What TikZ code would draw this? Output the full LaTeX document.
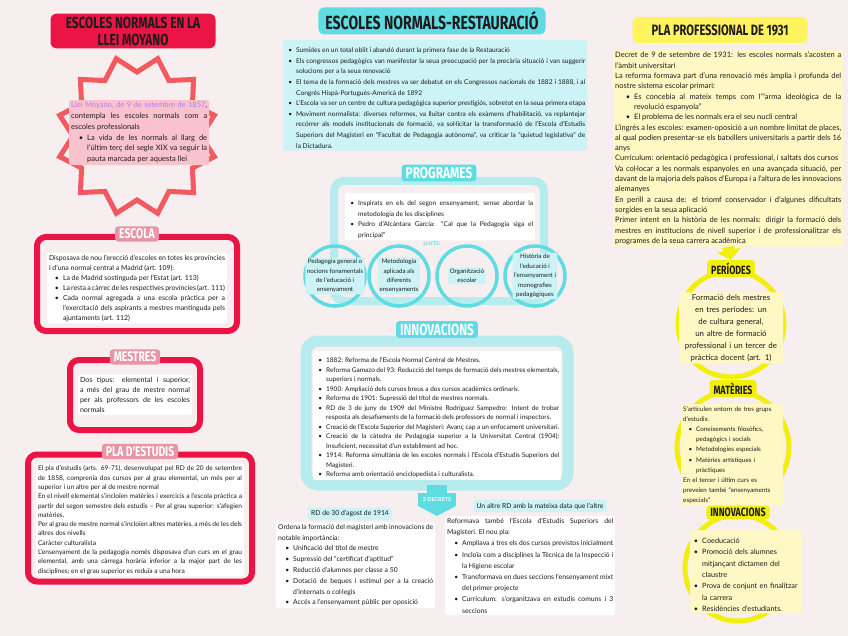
\documentclass[tikz,border=0pt]{standalone}
\usepackage{fontspec}
\setmainfont{Lato}
\newfontfamily\headfont{Fira Sans}[FakeStretch=0.74]
\usepackage{enumitem}
\setlist[itemize]{nosep,leftmargin=11pt,labelsep=4pt,label=\textbullet}
\usetikzlibrary{arrows.meta,positioning,calc,shapes.geometric}
\definecolor{paper}{HTML}{F6EEEF}
\definecolor{ink}{HTML}{1F1A1C}
\definecolor{crimson}{HTML}{EC1444}
\definecolor{coral}{HTML}{F25A60}
\definecolor{rosetag}{HTML}{E895A4}
\definecolor{rosehl}{HTML}{F9C3CE}
\definecolor{lilac}{HTML}{B47DE6}
\definecolor{aqua}{HTML}{5EDCE2}
\definecolor{aqualt}{HTML}{B6ECEE}
\definecolor{aquahl}{HTML}{CCF4F6}
\definecolor{lemon}{HTML}{FFF35E}
\definecolor{lemonb}{HTML}{F2EF0C}
\definecolor{lemonhl}{HTML}{FFF8C4}
\newcommand{\setfs}[2]{\fontsize{#1}{#2}\selectfont}
\hyphenpenalty=10000
\exhyphenpenalty=10000
\tolerance=9999
\emergencystretch=2em

\begin{document}
\begin{tikzpicture}[x=1pt,y=-1pt,
  title/.style={text=ink,rounded corners=6pt,align=center,inner xsep=7pt,inner ysep=3pt},
  tag/.style={font=\headfont\bfseries\setfs{14}{14},text=white,fill=rosetag,
              rounded corners=3pt,inner xsep=4pt,inner ysep=2.5pt},
  frame/.style={draw=crimson,line width=6pt,rounded corners=9pt},
  txt/.style={font=\setfs{6.4}{10},text=ink,fill=white,align=justify,
              rounded corners=2pt,inner sep=2pt,anchor=north west},
  ring/.style={circle,draw=lemonb,line width=5pt},
  bubble/.style={circle,draw=aqua,line width=3.5pt,minimum size=60pt},
  parttxt/.style={fill=aquahl,text=ink,align=center,font=\setfs{6.2}{9.4},
                  inner sep=1.5pt,rounded corners=2pt},
  rdtag/.style={fill=aquahl,text=ink,font=\setfs{6.8}{8},rounded corners=2pt,inner sep=3pt},
  ar/.style={-{Triangle[width=24pt,length=10pt]},line width=12pt,lemonb}]
\useasboundingbox (0,0) rectangle (848,636);
\fill[paper] (0,0) rectangle (848,636);

% left column
\node[title,fill=crimson,font=\headfont\bfseries\setfs{16}{17},minimum width=165pt]
  (moyano) at (133,31) {ESCOLES NORMALS EN LA\\LLEI MOYANO};
\node[star,star points=12,star point ratio=1.25,draw=coral,line width=5pt,
      minimum size=160pt,shape border rotate=15] (burst) at (137,136) {};
\node[txt,fill=rosehl,text width=136pt,font=\setfs{7.5}{10.8}] (moyanotxt) at (69,100)
  {{\color{lilac}Llei Moyano, de 9 de setembre de 1857}, contempla les escoles normals
   com a escoles professionals
   \begin{itemize}[leftmargin=16pt]
   \item La vida de les normals al llarg de l'últim terç del segle XIX va seguir la
         pauta marcada per aquesta llei
   \end{itemize}};

\node[frame,minimum width=200pt,minimum height=94pt] (escola) at (137,284) {};
\node[tag] (escolatag) at (escola.north) {ESCOLA};
\node[txt,anchor=center,text width=176pt,font=\setfs{6.9}{10}] (escolatxt) at (137,288)
  {Disposava de nou l'erecció d'escoles en totes les províncies i d'una normal central
   a Madrid (art. 109):
   \begin{itemize}[leftmargin=14pt]
   \item La de Madrid sostinguda per l'Estat (art. 113)
   \item La resta a càrrec de les respectives províncies (art. 111)
   \item Cada normal agregada a una escola pràctica per a l'exercitació dels aspirants
         a mestres mantinguda pels ajuntaments (art. 112)
   \end{itemize}};

\node[frame,minimum width=130pt,minimum height=70pt] (mestres) at (135,395) {};
\node[tag] (mestrestag) at (mestres.north) {MESTRES};
\node[txt,anchor=center,text width=110pt,font=\setfs{7.1}{10.2}] (mestrestxt) at (mestres)
  {Dos tipus: elemental i superior, a més del grau de mestre normal per als professors
   de les escoles normals};

\node[frame,minimum width=224pt,minimum height=127pt] (pla) at (140,518) {};
\node[tag] (platag) at (pla.north) {PLA D'ESTUDIS};
\node[txt,anchor=center,text width=204pt,font=\setfs{6.6}{9.3}] (platxt) at (140,520)
  {El pla d'estudis (arts. 69-71), desenvolupat pel RD de 20 de setembre de 1858,
   comprenia dos cursos per al grau elemental, un més per al superior i un altre per
   al de mestre normal\par
   En el nivell elemental s'incloïen matèries i exercicis a l'escola pràctica a partir
   del segon semestre dels estudis -- Per al grau superior: s'afegien matèries.\par
   Per al grau de mestre normal s'incloïen altres matèries, a més de les dels altres
   dos nivells\par
   Caràcter culturalista\par
   L'ensenyament de la pedagogia només disposava d'un curs en el grau elemental, amb
   una càrrega horària inferior a la major part de les disciplines; en el grau superior
   es reduïa a una hora};

% center column
\node[title,fill=aqua,font=\headfont\bfseries\setfs{19}{19},minimum width=227pt,
      minimum height=27pt] (restau) at (432,21) {ESCOLES NORMALS-RESTAURACIÓ};
\node[txt,fill=aquahl,text width=300pt,font=\setfs{6.6}{10.6}] (restautxt) at (283,40)
  {\begin{itemize}
   \item Sumides en un total oblit i abandó durant la primera fase de la Restauració
   \item Els congressos pedagògics van manifestar la seua preocupació per la precària
         situació i van suggerir solucions per a la seua renovació
   \item El tema de la formació dels mestres va ser debatut en els Congressos nacionals
         de 1882 i 1888, i al Congrés Hispà-Portuguès-Americà de 1892
   \item L'Escola va ser un centre de cultura pedagògica superior prestigiós, sobretot
         en la seua primera etapa
   \item Moviment normalista: diverses reformes, va lluitar contra els exàmens
         d'habilitació, va replantejar recórrer als models institucionals de formació,
         va sol·licitar la transformació de l'Escola d'Estudis Superiors del Magisteri en
         ``Facultat de Pedagogia autònoma'', va criticar la ``quietud legislativa'' de
         la Dictadura.
   \end{itemize}};

\node[draw=aqualt,line width=8pt,rounded corners=10pt,minimum width=210pt,
      minimum height=120pt] (programes) at (439,241) {};
\node[tag,fill=aqua,font=\headfont\bfseries\setfs{16}{16},yshift=4pt] (programestag)
  at (programes.north) {PROGRAMES};
\node[txt,text width=186pt,font=\setfs{6.6}{10.5}] (progtxt) at (345,193)
  {\begin{itemize}
   \item Inspirats en els del segon ensenyament, sense abordar la metodologia de les
         disciplines
   \item Pedro d'Alcántara García: ``Cal que la Pedagogia siga el principal''
   \end{itemize}};
\node[text=aqua,font=\setfs{7}{7}] (parts) at (432,244) {parts:};
\foreach \n/\x in {1/335,2/399,3/467,4/535}
  \node[bubble] (part\n) at (\x,276) {};
\node[parttxt] (part1txt) at (part1) {Pedagogia general o\\nocions fonamentals\\de l'educació i\\ensenyament};
\node[parttxt] (part2txt) at (part2) {Metodologia\\aplicada als\\diferents\\ensenyaments};
\node[parttxt] (part3txt) at (part3) {Organització\\escolar};
\node[parttxt] (part4txt) at (part4) {Història de\\l'educació i\\l'ensenyament i\\monografies\\pedagògiques};

\node[draw=aqualt,line width=11pt,rounded corners=12pt,minimum width=262pt,
      minimum height=144pt] (innov) at (437,413) {};
\node[tag,fill=aqua,font=\headfont\bfseries\setfs{16}{16},yshift=6pt] (innovtag)
  at (innov.north) {INNOVACIONS};
\node[txt,text width=244pt,font=\setfs{6.5}{9.5}] (innovtxt) at (313,351)
  {\begin{itemize}
   \item 1882: Reforma de l'Escola Normal Central de Mestres.
   \item Reforma Gamazo del 93: Reducció del temps de formació dels mestres elementals,
         superiors i normals.
   \item 1900: Ampliació dels cursos breus a dos cursos acadèmics ordinaris.
   \item Reforma de 1901: Supressió del títol de mestres normals.
   \item RD de 3 de juny de 1909 del Ministre Rodríguez Sampedro: Intent de trobar
         resposta als desafiaments de la formació dels professors de normal i inspectors.
   \item Creació de l'Escola Superior del Magisteri: Avanç cap a un enfocament universitari.
   \item Creació de la càtedra de Pedagogia superior a la Universitat Central (1904):
         Insuficient, necessitat d'un establiment ad hoc.
   \item 1914: Reforma simultània de les escoles normals i l'Escola d'Estudis Superiors
         del Magisteri.
   \item Reforma amb orientació enciclopedista i culturalista.
   \end{itemize}};
\coordinate (stemtop) at ([yshift=6pt]innov.south);
\node[fill=aqua,text=white,font=\bfseries\setfs{5.5}{5.5},minimum width=38pt,
      minimum height=13pt,inner sep=1pt,anchor=north] (decrets)
  at ([yshift=-2pt]innov.south) {2 DECRETS};
\fill[aqua] (decrets.south west) -- (decrets.south east) -- ($(decrets.south)+(0,10)$) -- cycle;
\draw[aqua,line width=20pt] (stemtop) -- (decrets.north);

\node[rdtag] (rd1tag) at (350,514) {RD de 30 d'agost de 1914};
\node[txt,text width=155pt,font=\setfs{6.8}{10.8}] (rd1txt) at (276,522)
  {Ordena la formació del magisteri amb innovacions de notable importància:
   \begin{itemize}[leftmargin=15pt]
   \item Unificació del títol de mestre
   \item Supressió del ``certificat d'aptitud''
   \item Reducció d'alumnes per classe a 50
   \item Dotació de beques i estímul per a la creació d'internats o col·legis
   \item Accés a l'ensenyament públic per oposició
   \end{itemize}};
\node[rdtag] (rd2tag) at (540,506) {Un altre RD amb la mateixa data que l'altre};
\node[txt,text width=166pt,font=\setfs{6.8}{11.2}] (rd2txt) at (445,516)
  {Reformava també l'Escola d'Estudis Superiors del Magisteri. El nou pla:
   \begin{itemize}[leftmargin=15pt]
   \item Ampliava a tres els dos cursos previstos inicialment
   \item Incloïa com a disciplines la Tècnica de la Inspecció i la Higiene escolar
   \item Transformava en dues seccions l'ensenyament mixt del primer projecte
   \item Currículum: s'organitzava en estudis comuns i 3 seccions
   \end{itemize}};

% right column
\node[title,fill=lemon,font=\headfont\bfseries\setfs{15}{15},minimum width=175pt,
      minimum height=26pt] (pla31) at (720,30) {PLA PROFESSIONAL DE 1931};
\node[txt,fill=lemonhl,text width=226pt,font=\setfs{7.5}{10.3}] (pla31txt) at (613,50)
  {Decret de 9 de setembre de 1931: les escoles normals s'acosten a l'àmbit universitari\par
   La reforma formava part d'una renovació més àmplia i profunda del nostre sistema
   escolar primari:
   \begin{itemize}[leftmargin=19pt]
   \item Es concebia al mateix temps com l'``arma ideològica de la revolució espanyola''
   \item El problema de les normals era el seu nucli central
   \end{itemize}
   L'ingrés a les escoles: examen-oposició a un nombre limitat de places, al qual podien
   presentar-se els batxillers universitaris a partir dels 16 anys\par
   Currículum: orientació pedagògica i professional, i saltats dos cursos\par
   Va col·locar a les normals espanyoles en una avançada situació, per davant de la
   majoria dels països d'Europa i a l'altura de les innovacions alemanyes\par
   En perill a causa de: el triomf conservador i d'algunes dificultats sorgides en la
   seua aplicació\par
   Primer intent en la història de les normals: dirigir la formació dels mestres en
   institucions de nivell superior i de professionalitzar els programes de la seua
   carrera acadèmica};

\node[ring,minimum size=106pt] (periodes) at (731,324) {};
\node[tag,fill=lemonb,text=ink,font=\headfont\bfseries\setfs{12}{12}] (periodestag)
  at (periodes.north) {PERÍODES};
\draw[ar] (pla31txt.south) -- (periodestag.north);
\node[txt,anchor=center,fill=lemonhl,align=center,text width=100pt,font=\setfs{7.9}{12}]
  (periodestxt) at (731,328) {Formació dels mestres en tres períodes: un de cultura
  general, un altre de formació professional i un tercer de pràctica docent (art. 1)};

\node[ring,minimum size=112pt] (materies) at (733,447) {};
\node[tag,fill=lemonb,text=ink,font=\headfont\bfseries\setfs{12}{12}] (materiestag)
  at (materies.north) {MATÈRIES};
\node[txt,fill=lemonhl,align=left,text width=98pt,font=\setfs{6.3}{10.2}] (materiestxt)
  at (681,404) {S'articulen entorn de tres grups d'estudis:
   \begin{itemize}[leftmargin=13pt]
   \item Coneixements filosòfics, pedagògics i socials
   \item Metodologies especials
   \item Matèries artístiques i pràctiques
   \end{itemize}
   En el tercer i últim curs es preveien també ``ensenyaments especials''};

\node[ring,minimum size=106pt] (innov31) at (738,568) {};
\node[tag,fill=lemonb,text=ink,font=\headfont\bfseries\setfs{12}{12}] (innov31tag)
  at (innov31.north) {INNOVACIONS};
\node[txt,fill=lemonhl,align=left,text width=108pt,font=\setfs{7.3}{11.3}] (innov31txt)
  at (690,530)
  {\begin{itemize}[leftmargin=10pt]
   \item Coeducació
   \item Promoció dels alumnes mitjançant dictamen del claustre
   \item Prova de conjunt en finalitzar la carrera
   \item Residències d'estudiants.
   \end{itemize}};
\end{tikzpicture}
\end{document}
